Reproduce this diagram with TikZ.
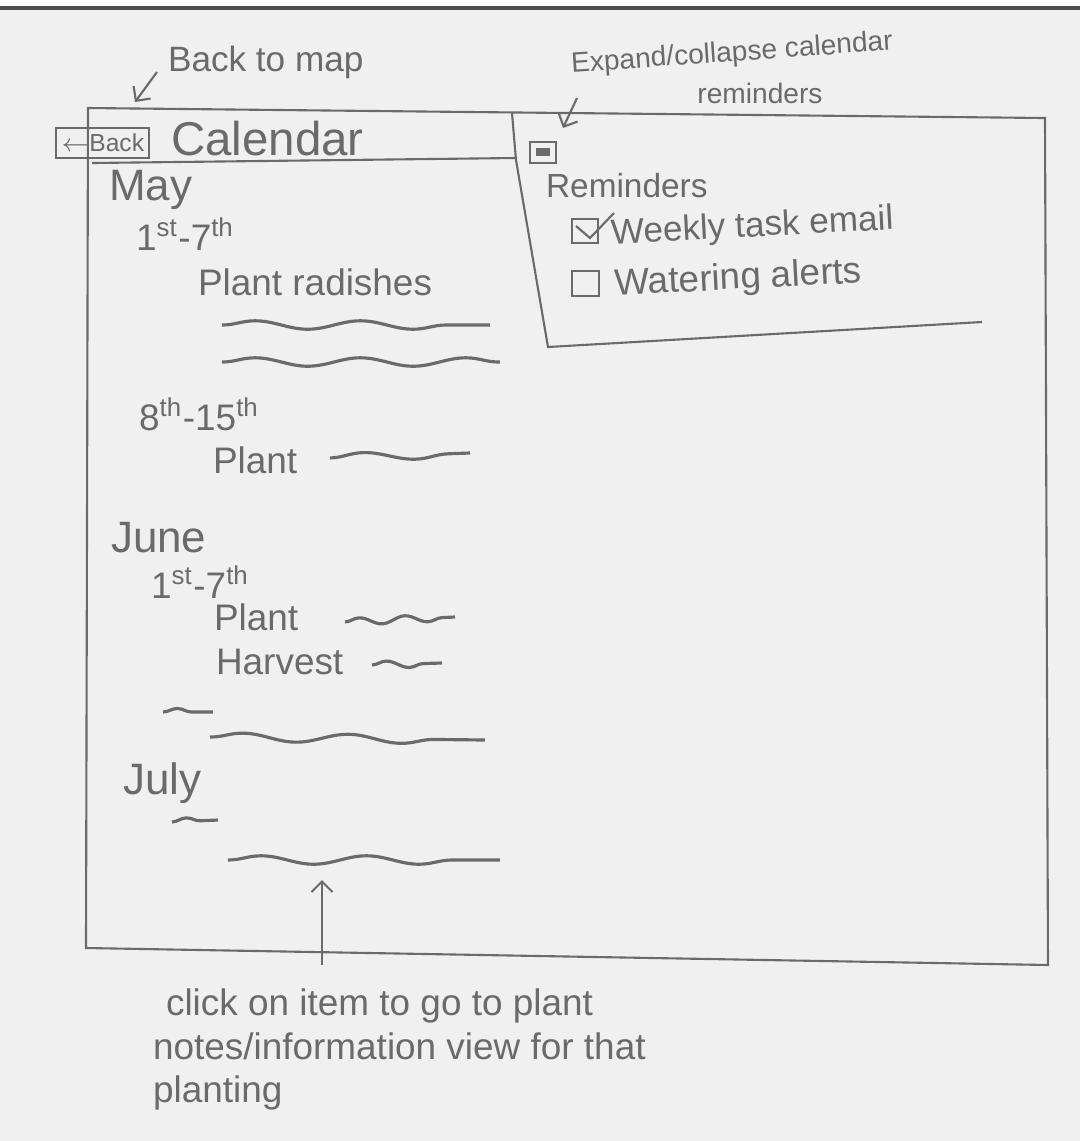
\documentclass[tikz,border=0pt]{standalone}
\usepackage{fontspec}
\setmainfont{Liberation Sans}
\usetikzlibrary{decorations.pathmorphing,arrows.meta}
\definecolor{pencil}{HTML}{6A6A6A}
\definecolor{paper}{HTML}{F0F0F0}

\begin{document}
\begin{tikzpicture}[x=0.01cm, y=-0.01cm, line width=0.6pt, draw=pencil, text=pencil,
  >={Straight Barb[length=3pt,width=6pt]},
  word/.style={anchor=west, inner sep=0pt, font=\fontsize{10.5}{12}\selectfont},
  month/.style={word, font=\fontsize{12.5}{14}\selectfont},
  note/.style={word, font=\fontsize{10}{12}\selectfont},
  scribble/.style={draw=pencil, line width=0.9pt, decorate, decoration={snake, amplitude=1.2pt, segment length=30pt}},
  short scribble/.style={scribble, decoration={snake, amplitude=1pt, segment length=13pt}}]
\useasboundingbox (0,0) rectangle (1080,1141);
\fill[paper] (0,8) rectangle (1080,1141);
\draw[gray!60!black, line width=1pt] (0,8) -- (1080,8);

% annotations at the top
\node [note] (backnote) at (167,62) {Back to map};
\coordinate (backtip) at (135,102);
\draw [->] (157,72) -- (backtip);
\node [note, anchor=center, rotate=4, font=\fontsize{8}{9}\selectfont] (expnote) at (732,54) {Expand/collapse calendar};
\node [note, anchor=center, font=\fontsize{8}{9}\selectfont] (expnote2) at (760,93) {reminders};
\coordinate (exptip) at (563,128);
\draw [->] (577,98) -- (exptip);

% screen frame
\draw (88,108) -- (1045,118) -- (1048,965) -- (86,948) -- cycle;
\draw (92,163) -- (515,158);
\draw (512,113) -- (516,160) -- (548,347) -- (982,322);

% calendar header
\node [draw, anchor=west, inner sep=1.5pt, minimum height=0.3cm, font=\fontsize{7}{8}\selectfont] (back) at (55,143) {$\leftarrow$Back};
\node [word, font=\fontsize{13.5}{16}\selectfont] (cal) at (170,139) {Calendar};

% reminders panel
\draw (530,142) rectangle (556,163);
\fill [pencil] (536,148) rectangle (550,156);
\node [word, font=\fontsize{9.5}{11}\selectfont] (rem) at (545,186) {Reminders};
\draw (572,219) rectangle (598,243);
\draw (576,226) -- (590,238) -- (614,213);
\node [word, rotate=3, font=\fontsize{10}{12}\selectfont] (weekly) at (610,235) {Weekly task email};
\draw (572,271) rectangle (599,296);
\node [word, rotate=3] (water) at (614,286) {Watering alerts};

% May
\node [month] (may) at (108,190) {May};
\node [word] (may1) at (135,234) {1\textsuperscript{st}-7\textsuperscript{th}};
\node [word] (radish) at (197,282) {Plant radishes};
\draw [scribble] (222,325) -- (490,325);
\draw [scribble] (222,362) -- (500,362);
\node [word] (may8) at (138,414) {8\textsuperscript{th}-15\textsuperscript{th}};
\node [word] (plant1) at (212,460) {Plant};
\draw [scribble] (330,458) -- (470,453);

% June
\node [month] (june) at (110,538) {June};
\node [word] (june1) at (150,582) {1\textsuperscript{st}-7\textsuperscript{th}};
\node [word] (plant2) at (213,617) {Plant};
\draw [short scribble] (345,622) -- (455,617);
\node [word] (harvest) at (215,662) {Harvest};
\draw [short scribble] (372,665) -- (442,663);
\draw [short scribble] (163,712) -- (213,712);
\draw [scribble] (210,737) -- (485,740);

% July
\node [month] (july) at (122,783) {July};
\draw [short scribble] (172,822) -- (218,820);
\draw [scribble] (228,860) -- (500,860);

% bottom note
\coordinate (clicktip) at (322,880);
\draw [->] (322,965) -- (clicktip);
\node [note, align=left, anchor=north west, font=\fontsize{10.5}{12.3}\selectfont] (clicknote) at (152,988) {\hspace{0.13cm}click on item to go to plant\\notes/information view for that\\planting};
\end{tikzpicture}
\end{document}
